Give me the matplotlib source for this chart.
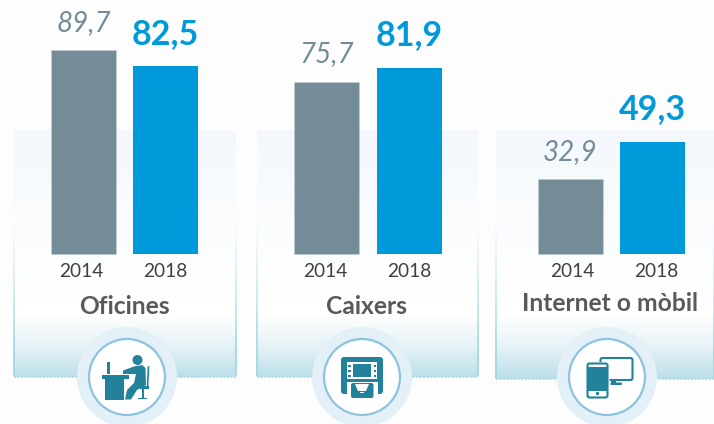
import numpy as np
import matplotlib
matplotlib.use('Agg')
import matplotlib.pyplot as plt
from matplotlib.colors import LinearSegmentedColormap
from matplotlib.patches import Circle, Rectangle, FancyBboxPatch, Polygon

categories = ['Oficines', 'Caixers', 'Internet o mòbil']
years = ['2014', '2018']
values_2014 = [89.7, 75.7, 32.9]
values_2018 = [82.5, 81.9, 49.3]

W, H = 714, 424
GRAY = '#748c98'
BLUE = '#009ada'
TEAL = '#22819b'
BASE_Y = 254        # pixel row of the bar baseline
PX_PER_UNIT = 2.274

plt.rcParams['font.family'] = ['Lato', 'DejaVu Sans']

fig = plt.figure(figsize=(W / 100, H / 100), dpi=100, facecolor='#fdfdfe')

# background layer in pixel coordinates
bg = fig.add_axes([0, 0, 1, 1], zorder=0)
bg.axis('off')

top_cmap = LinearSegmentedColormap.from_list('top', ['#f4f8fc', '#fafcfe', '#ffffff'])
low_cmap = LinearSegmentedColormap.from_list('low', ['#ffffff', '#e6f3f7', '#bcdfe8'])
grad = np.linspace(0, 1, 100).reshape(-1, 1)

panels = [(14, 236, 377), (257, 478, 377), (496, 714, 379)]
for x0, x1, y1 in panels:
    bg.imshow(grad, extent=(x0, x1, 300, 130), cmap=top_cmap, aspect='auto', zorder=1)
    bg.add_patch(Rectangle((x0, 299), x1 - x0, 16, fc='white', ec='none', zorder=1))
    bg.imshow(grad, extent=(x0, x1, y1, 314), cmap=low_cmap, aspect='auto', zorder=1)
    # dotted border that fades out towards the top
    ys = np.arange(225, y1, 2.5)
    fade = np.clip((ys - 225) / 130, 0.05, 1)
    dots = np.tile(matplotlib.colors.to_rgba('#a5dbe9'), (len(ys), 1))
    dots[:, 3] = fade
    bg.scatter(np.full(len(ys), x0), ys, s=3, marker='s', c=dots, linewidths=0, zorder=2)
    bg.scatter(np.full(len(ys), x1), ys, s=3, marker='s', c=dots, linewidths=0, zorder=2)
    bg.plot([x0, x1], [y1, y1], color='#a5dbe9', lw=1.3, ls=(0, (1, 1)), zorder=2)
bg.set_xlim(0, W)
bg.set_ylim(H, 0)

# bars, on a value scale with the baseline at BASE_Y
ax = fig.add_axes([0, 0, 1, 1], zorder=1)
ax.patch.set_alpha(0)
ax.set_xlim(0, W)
ax.set_ylim((BASE_Y - H) / PX_PER_UNIT, BASE_Y / PX_PER_UNIT)
ax.axis('off')

x_2014 = [83, 326.5, 570]
x_2018 = [165.5, 409, 652.5]
year_x_2014 = [81, 325, 572]
year_x_2018 = [165, 409, 656]
title_x = [124, 366.5, 610]
title_y = [-23.3, -23.3, -21.9]

ax.bar(x_2014, values_2014, width=65, color=GRAY, edgecolor='#c5d0d6', linewidth=0.4)
ax.bar(x_2018, values_2018, width=65, color=BLUE)

for i in range(3):
    ax.text(x_2014[i] + 0.5, values_2014[i] + 6.3, f'{values_2014[i]:.1f}'.replace('.', ','),
            ha='center', va='bottom', fontsize=20, style='italic', color=GRAY)
    ax.text(x_2018[i], values_2018[i] + 7.2, f'{values_2018[i]:.1f}'.replace('.', ','),
            ha='center', va='bottom', fontsize=24.5, fontweight='bold', color=BLUE)
    ax.text(year_x_2014[i], -7.5, years[0], ha='center', va='center', fontsize=13.8, color='#404040')
    ax.text(year_x_2018[i], -7.5, years[1], ha='center', va='center', fontsize=13.8, color='#404040')
    ax.text(title_x[i], title_y[i], categories[i], ha='center', va='center', fontsize=17.7,
            fontweight='bold', color='#595959')

# icons on top, pixel coordinates again
ic = fig.add_axes([0, 0, 1, 1], zorder=2)
ic.patch.set_alpha(0)
ic.set_xlim(0, W)
ic.set_ylim(H, 0)
ic.axis('off')


def rect(x0, y0, x1, y1, c=TEAL):
    ic.add_patch(Rectangle((x0, y0), x1 - x0, y1 - y0, fc=c, ec='none'))


def rrect(x0, y0, x1, y1, r=2, fc=TEAL, ec='none', lw=0):
    ic.add_patch(FancyBboxPatch((x0 + r, y0 + r), x1 - x0 - 2 * r, y1 - y0 - 2 * r,
                                boxstyle=f'round,pad={r}', fc=fc, ec=ec, lw=lw))


for cx in [127, 362, 607]:
    ic.add_patch(Circle((cx, 377), 50, fc='#e4f0f7', ec='none'))
    ic.add_patch(Circle((cx, 377), 38, fc='white', ec='#8cc4de', lw=1.6))

# desk worker
rect(105, 378, 124, 399.5)
rect(102, 375, 129, 379)
rect(107, 362, 110, 374)
ic.add_patch(Circle((137.5, 360), 5, fc=TEAL, ec='none'))
ic.add_patch(Polygon([(123, 370.5), (134, 366.5), (142, 365), (145.5, 368), (146, 385),
                      (137, 390), (131, 399.5), (125, 399.5), (127, 390), (134, 383),
                      (136, 374), (123, 374)], fc=TEAL, ec='none'))
ic.plot([148.5, 147.5], [367, 387], color=TEAL, lw=1.2)
rect(140, 386, 149, 388.5)
rect(142.3, 388, 144.3, 398)
rect(138, 397.5, 147, 399)

# cash machine
rrect(341, 357, 383, 394, r=3)
rect(346.7, 361.7, 377, 378.5, 'white')
rect(353, 364, 371, 377)
for y in [364.5, 369.5, 374.5]:
    rect(348, y, 350.5, y + 2.2)
    rect(373.5, y, 376, y + 2.2)
rect(346.5, 382, 377.5, 398, 'white')
rrect(351, 383, 373.5, 398, r=2)
ic.add_patch(Polygon([(355, 384), (369, 384), (366, 391), (358, 391)], fc='white', ec='none'))
rect(360, 391.5, 364, 393, 'white')

# screen and phone
rrect(600.5, 358, 632.5, 380, r=2, fc='white', ec=TEAL, lw=1.5)
rect(611, 381, 616, 384)
rrect(610.5, 382.5, 622, 385, r=1)
rrect(585.5, 362, 609.5, 399, r=1, fc='white', ec='none')
rrect(587.5, 363.5, 607.5, 397.5, r=2, fc='white', ec=TEAL, lw=1.5)
rect(588, 367, 607, 390.5)
ic.add_patch(Circle((597.5, 393.5), 1.7, fc=TEAL, ec='none'))

fig.savefig('out.png', dpi=100, facecolor=fig.get_facecolor())
